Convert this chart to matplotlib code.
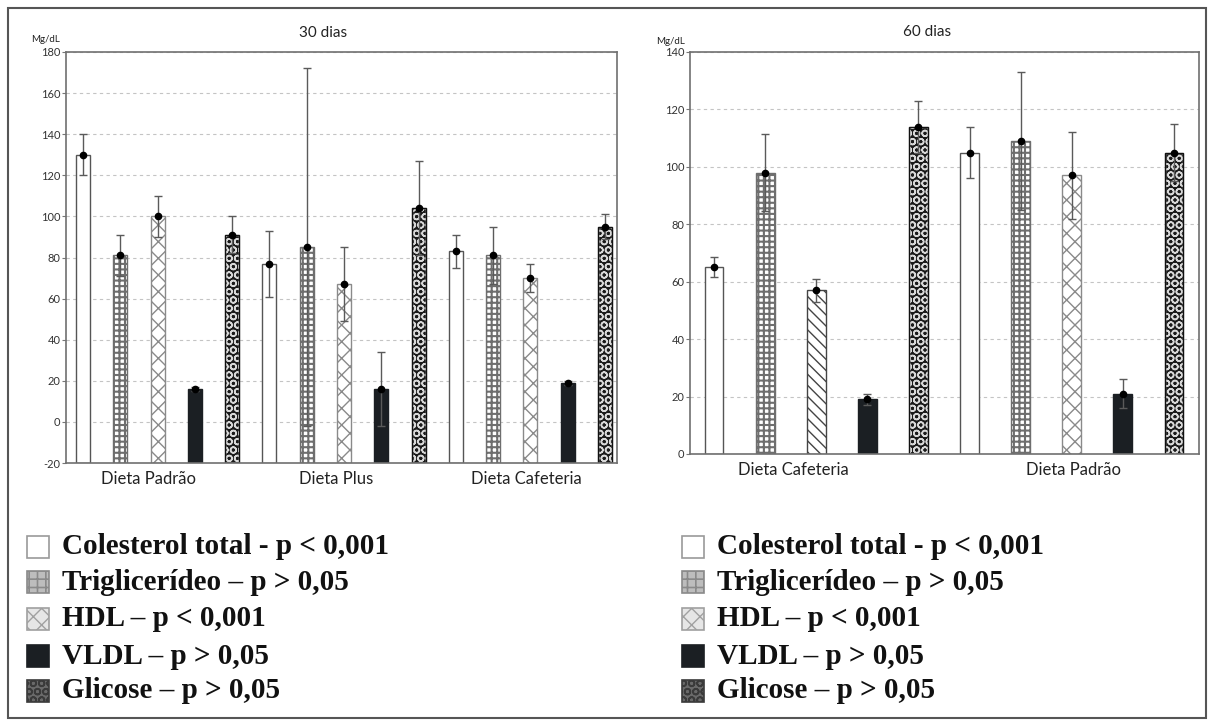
import numpy as np
import matplotlib
matplotlib.use('Agg')
import matplotlib.pyplot as plt
from matplotlib.patches import Rectangle

# ---------------- data ----------------
series = ['Colesterol total', 'Triglicerídeo', 'HDL', 'VLDL', 'Glicose']
legend_labels = ['Colesterol total - p < 0,001', 'Triglicerídeo – p > 0,05',
                 'HDL – p < 0,001', 'VLDL – p > 0,05', 'Glicose – p > 0,05']

groups_30 = ['Dieta Padrão', 'Dieta Plus', 'Dieta Cafeteria']
colesterol_30 = [130, 77, 83]
trig_30 = [81, 85, 81]
hdl_30 = [100, 67, 70]
vldl_30 = [16, 16, 19]
glicose_30 = [91, 104, 95]
colesterol_30_sd = [10, 16, 8]
trig_30_sd = [10, 87, 14]
hdl_30_sd = [10, 18, 7]
vldl_30_sd = [1, 18, 1]
glicose_30_sd = [9, 23, 6]

groups_60 = ['Dieta Cafeteria', 'Dieta Padrão']
colesterol_60 = [65, 105]
trig_60 = [98, 109]
hdl_60 = [57, 97]
vldl_60 = [19, 21]
glicose_60 = [114, 105]
colesterol_60_sd = [3.5, 9]
trig_60_sd = [13.5, 24]
hdl_60_sd = [4, 15]
vldl_60_sd = [2, 5]
glicose_60_sd = [9, 10]

yticks_30 = [-20, 0, 20, 40, 60, 80, 100, 120, 140, 160, 180]
yticks_60 = [0, 20, 40, 60, 80, 100, 120, 140]

# ---------------- styles ----------------
styles = {
    'Colesterol total': dict(facecolor='white', edgecolor='#555555', hatch=None, hlw=1.0),
    'Triglicerídeo':    dict(facecolor='white', edgecolor='#6e6e6e', hatch='+++', hlw=1.5),
    'HDL':              dict(facecolor='white', edgecolor='#8a8a8a', hatch='xx', hlw=1.0),
    'VLDL':             dict(facecolor='#1b1f23', edgecolor='#1b1f23', hatch=None, hlw=1.0),
    'Glicose':          dict(facecolor='#1a1a1a', edgecolor='#d8d8d8', hatch='OO', hlw=1.1),
}

W, H = 1214, 728
fig = plt.figure(figsize=(W / 100, H / 100), dpi=100)
fig.patch.set_facecolor('white')

axfont = 'Lato'


def px_rect(x0, y0, x1, y1):
    return [x0 / W, 1 - y1 / H, (x1 - x0) / W, (y1 - y0) / H]


def make_bars(ax, xs, heights, base, width, st):
    with plt.rc_context({'hatch.linewidth': st['hlw']}):
        bars = ax.bar(xs, heights, bottom=base, width=width,
                      facecolor=st['facecolor'], edgecolor=st['edgecolor'],
                      hatch=st['hatch'], linewidth=1.0, zorder=2)
        for b in bars:
            if hasattr(b, 'set_hatch_linewidth'):
                b.set_hatch_linewidth(st['hlw'])
    return bars


def draw_panel(ax, groups, means, sds, base, yticks, xl, width, lab_pos):
    n_s = len(series)
    n_g = len(groups)
    containers = []
    for si, name in enumerate(series):
        st = styles[name]
        xs = np.arange(n_g) * n_s + si
        vals = np.array(means[si], dtype=float)
        bars = make_bars(ax, xs, vals - base, base, width, st)
        if name == 'Glicose':
            # dark outline over the ring pattern
            ax.bar(xs, vals - base, bottom=base, width=width, fill=False,
                   edgecolor='#111111', linewidth=1.0, zorder=2.5)
        containers.append(bars)
        ax.errorbar(xs, vals, yerr=sds[si], fmt='o', color='black', ms=4.5,
                    ecolor='#5a5a5a', elinewidth=1.0, capsize=3, capthick=1.0, zorder=4)
    ax.set_xlim(*xl)
    ax.set_ylim(yticks[0], yticks[-1])
    ax.set_yticks(yticks)
    ax.set_yticklabels([str(t) for t in yticks], fontfamily=axfont, fontsize=8, color='#333333')
    ax.tick_params(axis='y', length=3, width=0.8, pad=1, color='#777777')
    ax.set_xticks(lab_pos)
    ax.set_xticklabels(groups, fontfamily=axfont, fontsize=12, color='#222222')
    ax.tick_params(axis='x', length=0, pad=6)
    ax.yaxis.grid(True, linestyle=(0, (3, 3)), color='#c4c4c4', linewidth=0.8)
    ax.set_axisbelow(True)
    for sp in ax.spines.values():
        sp.set_color('#707070')
        sp.set_linewidth(1.2)
    return containers


# Left panel: 30 dias
ax1 = fig.add_axes(px_rect(66, 52, 617, 463))
draw_panel(ax1, groups_30,
           [colesterol_30, trig_30, hdl_30, vldl_30, glicose_30],
           [colesterol_30_sd, trig_30_sd, hdl_30_sd, vldl_30_sd, glicose_30_sd],
           -20, yticks_30, (-0.456, 14.32), 0.375, [1.75, 6.8, 11.9])
fig.text(323 / W, 1 - 33 / H, '30 dias', ha='center', va='center',
         fontfamily=axfont, fontsize=11, color='#222222')
fig.text(46 / W, 1 - 39 / H, 'Mg/dL', ha='center', va='center',
         fontfamily=axfont, fontsize=7, color='#222222')

# Right panel: 60 dias
ax2 = fig.add_axes(px_rect(690, 52, 1199, 454))
cont2 = draw_panel(ax2, groups_60,
                   [colesterol_60, trig_60, hdl_60, vldl_60, glicose_60],
                   [colesterol_60_sd, trig_60_sd, hdl_60_sd, vldl_60_sd, glicose_60_sd],
                   0, yticks_60, (-0.47, 9.49), 0.37, [1.56, 7.04])
# HDL on Dieta Cafeteria uses diagonal hatch
cont2[2][0].set_hatch('\\\\\\')
cont2[2][0].set_edgecolor('#444444')
fig.text(927 / W, 1 - 32 / H, '60 dias', ha='center', va='center',
         fontfamily=axfont, fontsize=11, color='#222222')
fig.text(671 / W, 1 - 42 / H, 'Mg/dL', ha='center', va='center',
         fontfamily=axfont, fontsize=7, color='#222222')

# Legends (identical under both panels)
row_y = [547, 582, 619, 656, 691]
leg_styles = {
    'Colesterol total': dict(facecolor='white', edgecolor='#9a9a9a', hatch=None, hlw=1.0),
    'Triglicerídeo':    dict(facecolor='#bdbdbd', edgecolor='#8a8a8a', hatch='++', hlw=1.2),
    'HDL':              dict(facecolor='#e6e6e6', edgecolor='#a0a0a0', hatch='xx', hlw=1.0),
    'VLDL':             dict(facecolor='#1b1f23', edgecolor='#1b1f23', hatch=None, hlw=1.0),
    'Glicose':          dict(facecolor='#6a6a6a', edgecolor='#3a3a3a', hatch='OO', hlw=1.2),
}
for (sq_x, tx_x) in [(27, 62), (682, 717)]:
    for si, name in enumerate(series):
        st = leg_styles[name]
        yc = row_y[si]
        s = 22
        with plt.rc_context({'hatch.linewidth': st['hlw']}):
            r = Rectangle((sq_x / W, 1 - (yc + s / 2) / H), s / W, s / H,
                          transform=fig.transFigure, facecolor=st['facecolor'],
                          edgecolor=st['edgecolor'], hatch=st['hatch'], linewidth=1.2)
            if hasattr(r, 'set_hatch_linewidth'):
                r.set_hatch_linewidth(st['hlw'])
        fig.add_artist(r)
        fig.text(tx_x / W, 1 - yc / H, legend_labels[si], ha='left', va='center',
                 fontfamily='Liberation Serif', fontweight='bold', fontsize=21,
                 color='#111111')

# Outer border
fig.add_artist(Rectangle((8 / W, 1 - 718 / H), (1206 - 8) / W, (718 - 8) / H,
                         transform=fig.transFigure, fill=False,
                         edgecolor='#555555', linewidth=1.5))

fig.savefig('out.png', dpi=100)
